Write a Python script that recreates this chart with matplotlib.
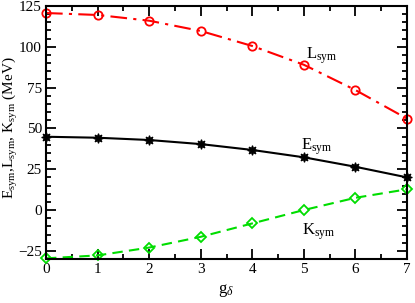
import matplotlib
matplotlib.use("Agg")
import matplotlib.pyplot as plt
from matplotlib.ticker import MultipleLocator

plt.rcParams['font.family'] = ['Liberation Serif']
plt.rcParams['mathtext.fontset'] = 'custom'
plt.rcParams['mathtext.rm'] = 'Liberation Serif'
plt.rcParams['mathtext.it'] = 'Liberation Serif:italic'

g = [0, 1, 2, 3, 4, 5, 6, 7]
L_sym = [120.7, 119.5, 116.0, 109.7, 100.5, 89.0, 73.5, 56.0]
E_sym = [44.9, 44.3, 42.9, 40.4, 36.8, 32.3, 26.5, 20.0]
K_sym = [-29.6, -27.8, -23.0, -16.4, -8.2, 0.0, 7.5, 12.7]

fig = plt.figure(figsize=(4.15, 3.03), dpi=100)
ax = fig.add_axes([46/415, 1-259/303, (407-46)/415, (259-6)/303])

ax.plot(g, L_sym, color='red', linestyle='-.', dashes=(8, 3, 1.5, 3), lw=1.5,
        marker='o', markersize=6, markerfacecolor='none', markeredgewidth=1.3, clip_on=False)
ax.plot(g, E_sym, color='black', linestyle='-', lw=1.5,
        marker=(8, 1, 0), markersize=7, markeredgewidth=0.8, clip_on=False)
ax.plot(g, K_sym, color='#00dd00', linestyle='--', dashes=(5, 3), lw=1.5,
        marker='D', markersize=5, markerfacecolor='none', markeredgewidth=1.3, clip_on=False)

ax.text(5.05, 92.5, r'L$_{\mathrm{sym}}$', fontsize=12)
ax.text(4.95, 37, r'E$_{\mathrm{sym}}$', fontsize=12)
ax.text(4.97, -15, r'K$_{\mathrm{sym}}$', fontsize=12)

ax.set_xlim(0, 7)
ax.set_ylim(-30, 125)
ax.xaxis.set_major_locator(MultipleLocator(1))
ax.xaxis.set_minor_locator(MultipleLocator(0.5))
ax.yaxis.set_major_locator(MultipleLocator(25))
ax.yaxis.set_minor_locator(MultipleLocator(5))
ax.tick_params(which='both', direction='in', top=True, right=True, labelsize=11, width=1.3)
ax.tick_params(which='major', length=7, pad=3)
ax.tick_params(which='minor', length=3.5)
for s in ax.spines.values():
    s.set_linewidth(1.5)

ax.set_xlabel(r'g$_{\delta}$', fontsize=12, labelpad=4)
fig.text(10/415, 1-128/303, r'E$_{\mathrm{sym}}$,L$_{\mathrm{sym}}$, K$_{\mathrm{sym}}$ (MeV)',
         fontsize=11, rotation=90, ha='center', va='center')

fig.savefig('out.png', dpi=100)
